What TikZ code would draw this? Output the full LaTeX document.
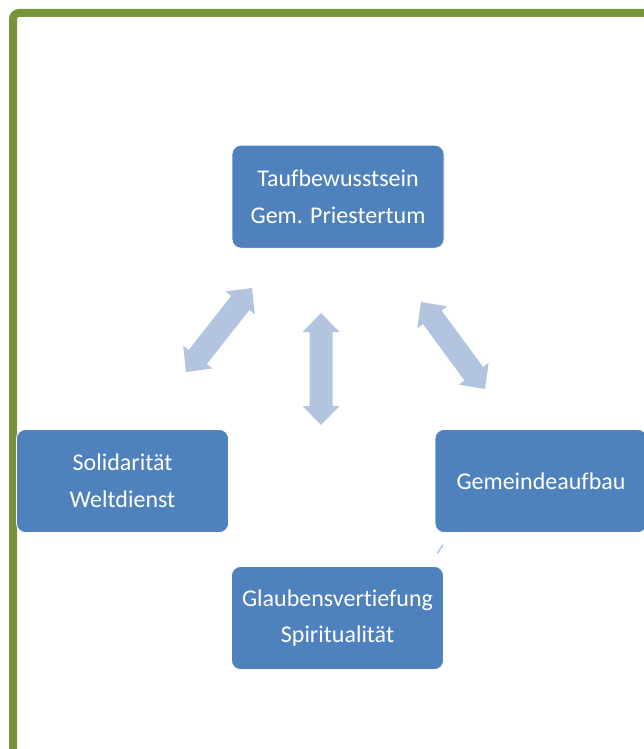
\documentclass[tikz,border=0pt]{standalone}
\usepackage{fontspec}
\setmainfont{Carlito}[Ligatures=CommonOff]
\usetikzlibrary{calc}
\definecolor{framegreen}{HTML}{77933C}
\definecolor{boxblue}{HTML}{4F81BD}
\definecolor{arrowblue}{HTML}{B3C4DF}
\tikzset{
  stepbox/.style={rectangle, rounded corners=9pt, fill=boxblue, draw=white, line width=0.8pt,
    minimum width=212pt, minimum height=103pt, text=white, align=center,
    font=\fontsize{24}{36.7}\selectfont, inner sep=0pt},
  arrowfill/.style={fill=arrowblue},
  frameline/.style={draw=framegreen, line width=8pt, rounded corners=6pt}
}
\newcommand\dblarrow[3]{%
  \coordinate (#3-p) at ($(#1)!19pt!(#2)$);
  \coordinate (#3-q) at ($(#2)!19pt!(#1)$);
  \fill[arrowfill] (#1) -- ($(#3-p)!18.5pt!90:(#2)$) -- ($(#3-p)!11.5pt!90:(#2)$)
    -- ($(#3-q)!11.5pt!-90:(#1)$) -- ($(#3-q)!18.5pt!-90:(#1)$) -- (#2)
    -- ($(#3-q)!18.5pt!90:(#1)$) -- ($(#3-q)!11.5pt!90:(#1)$)
    -- ($(#3-p)!11.5pt!-90:(#2)$) -- ($(#3-p)!18.5pt!-90:(#2)$) -- cycle;}
\begin{document}
\begin{tikzpicture}[x=1pt, y=-1pt]
\useasboundingbox (0,0) rectangle (644,749);
\clip (0,0) rectangle (644,749);
\fill[white] (0,0) rectangle (644,749);
% frame
\coordinate (fb) at (13,760);
\coordinate (fc) at (13,13);
\coordinate (fr) at (660,13);
\draw[frameline] (fb) -- (fc) -- (fr);
% boxes
\node[stepbox] (top) at (338,196.7) {Taufbewusstsein\\Gem. Priestertum};
\node[stepbox] (left) at (122.5,481) {Solidarität\\Weltdienst};
\node[stepbox] (right) at (541,481) {Gemeindeaufbau};
\node[stepbox] (bottom) at (337.5,618) {Glaubensvertiefung\\Spiritualität};
% arrows
\coordinate (la1) at (186,372);
\coordinate (la2) at (252,288);
\coordinate (va1) at (321,313);
\coordinate (va2) at (321,425);
\coordinate (ra1) at (421,302);
\coordinate (ra2) at (485,389);
\dblarrow{la1}{la2}{la}
\dblarrow{va1}{va2}{va}
\dblarrow{ra1}{ra2}{ra}
\coordinate (fa1) at (442.7,545);
\coordinate (fa2) at (437.3,553.3);
\draw[arrowblue, line width=1.5pt] (fa1) -- (fa2);
\end{tikzpicture}
\end{document}
